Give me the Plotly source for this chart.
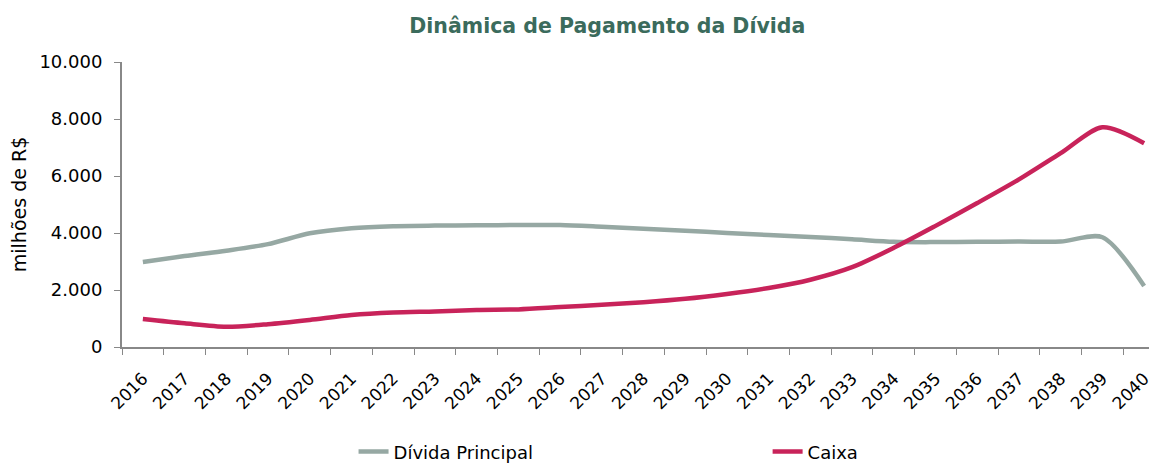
import plotly.graph_objects as go

anos = [str(a) for a in range(2016, 2041)]

divida_principal = [2980, 3190, 3380, 3610, 3990, 4170, 4240, 4260, 4270, 4280, 4280,
                    4220, 4150, 4080, 4000, 3930, 3860, 3780, 3690, 3680, 3690, 3700,
                    3700, 3850, 2140]

caixa = [980, 830, 710, 800, 950, 1120, 1210, 1250, 1300, 1320, 1400,
         1480, 1570, 1690, 1860, 2070, 2360, 2800, 3480, 4250, 5050, 5880,
         6800, 7710, 7150]

fonte = "DejaVu Sans"

fig = go.Figure()

fig.add_trace(go.Scatter(
    x=anos,
    y=divida_principal,
    name="Dívida Principal",
    mode="lines",
    legend="legend",
    showlegend=True,
    line=dict(color="#96a8a3", width=4.5, shape="spline", smoothing=0.8)
))

fig.add_trace(go.Scatter(
    x=anos,
    y=caixa,
    name="Caixa",
    mode="lines",
    legend="legend2",
    showlegend=True,
    line=dict(color="#c8235a", width=4.5, shape="spline", smoothing=0.8)
))

fig.update_layout(
    width=1157,
    height=463,
    showlegend=True,
    title=dict(
        text="<b>Dinâmica de Pagamento da Dívida</b>",
        x=0.518, xanchor="center", xref="container",
        y=0.961, yanchor="middle", yref="container",
        font=dict(family=fonte, size=20.5, color="#3b6b5c")
    ),
    separators=",.",
    plot_bgcolor="white",
    paper_bgcolor="white",
    margin=dict(l=114, r=0, t=54, b=124),
    font=dict(family=fonte, size=17, color="black"),
    xaxis=dict(
        type="category",
        range=[-0.5, 24.5],
        automargin=False,
        tickangle=-45,
        showline=True, linecolor="#888888", linewidth=2,
        ticks="outside", tickson="boundaries", ticklen=6, tickcolor="#888888",
        showgrid=False,
        tickfont=dict(size=17),
        ticklabelstandoff=13,
    ),
    yaxis=dict(
        title=dict(text="milhões de R$", font=dict(size=19), standoff=12),
        range=[0, 10000],
        dtick=2000,
        tickformat=",d",
        automargin=False,
        showline=True, linecolor="#888888", linewidth=2,
        ticks="outside", ticklen=6, tickcolor="#888888",
        showgrid=False, zeroline=False,
        tickfont=dict(size=18),
        ticklabelstandoff=8,
    ),
    legend=dict(
        orientation="h",
        x=0.222, xanchor="left",
        y=-0.368, yanchor="middle",
        font=dict(size=18),
    ),
    legend2=dict(
        orientation="h",
        x=0.619, xanchor="left",
        y=-0.368, yanchor="middle",
        font=dict(size=18),
    ),
)

fig.write_html("out.html")
